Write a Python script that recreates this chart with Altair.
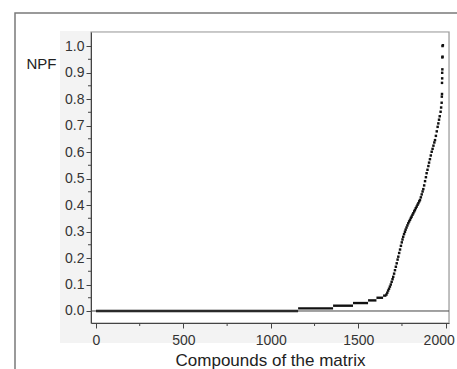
import altair as alt
import pandas as pd

# Flat steps (many compounds sharing the same NPF value)
step_start = [0, 1156, 1356, 1470, 1556, 1604, 1642]
step_end = [1156, 1356, 1470, 1556, 1604, 1642, 1661]
step_npf = [0.0, 0.01, 0.02, 0.03, 0.04, 0.05, 0.058]

# Rising part, read point by point
rise_x = [1661, 1666, 1671, 1676, 1681, 1686, 1691, 1696, 1700, 1705, 1710, 1715,
          1720, 1725, 1729, 1734, 1739, 1744, 1749, 1753, 1757, 1762, 1767, 1771,
          1776, 1781, 1786, 1791, 1796, 1801, 1805, 1810, 1815, 1820, 1824, 1829,
          1834, 1839, 1844, 1849, 1853, 1858, 1863, 1868, 1872, 1877, 1882, 1887,
          1891, 1896, 1901, 1905, 1910, 1915, 1920, 1925, 1930, 1935, 1939, 1944,
          1949, 1954, 1958, 1962, 1966, 1971, 1974, 1977,
          1978, 1979, 1979, 1980, 1980, 1981, 1981, 1982, 1982, 1984]
rise_npf = [0.062, 0.069, 0.077, 0.084, 0.092, 0.100, 0.110, 0.120, 0.129, 0.141, 0.154, 0.167,
            0.180, 0.194, 0.205, 0.219, 0.232, 0.246, 0.259, 0.270, 0.280, 0.290, 0.299, 0.307,
            0.315, 0.323, 0.331, 0.338, 0.344, 0.351, 0.356, 0.363, 0.369, 0.376, 0.381, 0.388,
            0.394, 0.401, 0.407, 0.414, 0.419, 0.429, 0.440, 0.451, 0.460, 0.474, 0.490, 0.505,
            0.520, 0.533, 0.547, 0.560, 0.573, 0.587, 0.601, 0.612, 0.624, 0.636, 0.645, 0.661,
            0.678, 0.695, 0.708, 0.722, 0.735, 0.752, 0.768, 0.786,
            0.809, 0.819, 0.861, 0.878, 0.899, 0.912, 0.957, 0.960, 1.0, 1.003]

x_ticks = [0, 500, 1000, 1500, 2000]
x_minor = [250, 750, 1250, 1750]
y_ticks = [0.0, 0.1, 0.2, 0.3, 0.4, 0.5, 0.6, 0.7, 0.8, 0.9, 1.0]
y_minor = [0.05, 0.15, 0.25, 0.35, 0.45, 0.55, 0.65, 0.75, 0.85, 0.95]

W, H = 358, 291
FONT = "Liberation Sans"

xs = alt.Scale(domain=[-28.6, 2019], nice=False, zero=False)
ys = alt.Scale(domain=[-0.0453, 1.053], nice=False, zero=False)

xa = alt.Axis(values=x_ticks, format="d", title="Compounds of the matrix",
              grid=False, tickSize=5, labelPadding=5, labelFontSize=14,
              labelFont=FONT, labelColor="#333333", titleFont=FONT,
              titleFontSize=17, titleFontWeight="normal", titleColor="#222222",
              titlePadding=5, domainColor="#444444", tickColor="#444444",
              zindex=2, labelOverlap=False,
              labelOffset={"condition": {"test": "datum.value >= 2000", "value": -7},
                           "value": 0})
ya = alt.Axis(values=y_ticks, tickCount=11, format=".1f", title="NPF", grid=False,
              tickSize=5, labelPadding=2, labelFontSize=14, labelFont=FONT,
              labelColor="#333333", titleFont=FONT, titleFontSize=15,
              titleFontWeight="normal", titleColor="#222222", titleAngle=0,
              titleX=-50, titleY=31, titleAlign="center",
              titleBaseline="middle", domainColor="#444444",
              tickColor="#444444", zindex=2, labelOverlap=False)

steps = pd.DataFrame({"x": step_start, "x2": step_end, "y": step_npf})
rise = pd.DataFrame({"x": rise_x, "y": rise_npf})
xmin = pd.DataFrame({"x": x_minor})
ymin = pd.DataFrame({"y": y_minor})
zero = pd.DataFrame({"y": [0.0]})

base_df = pd.DataFrame({"a": [0]})

grey_panel = alt.Chart(base_df).mark_rect(color="#f3f3f3").encode(
    x=alt.value(-31), x2=alt.value(W + 1), y=alt.value(-1), y2=alt.value(H + 20))
white_panel = alt.Chart(base_df).mark_rect(color="white").encode(
    x=alt.value(0), x2=alt.value(W), y=alt.value(0), y2=alt.value(H))
outer_frame = alt.Chart(base_df).mark_rect(
    fill=None, fillOpacity=0, stroke="#7a7a7a", strokeWidth=1.5).encode(
    x=alt.value(-76), x2=alt.value(W + 60), y=alt.value(-19), y2=alt.value(H + 60))
plot_frame = alt.Chart(base_df).mark_rect(
    fill=None, fillOpacity=0, stroke="#9a9a9a", strokeWidth=1.2).encode(
    x=alt.value(0), x2=alt.value(W), y=alt.value(0), y2=alt.value(H))

zero_line = alt.Chart(zero).mark_rule(color="#444444", strokeWidth=1).encode(
    y=alt.Y("y:Q", scale=ys, axis=ya), x=alt.value(0), x2=alt.value(W))

step_rules = alt.Chart(steps).mark_rule(color="#111111", strokeWidth=2.4).encode(
    x=alt.X("x:Q", scale=xs, axis=xa),
    x2="x2:Q",
    y=alt.Y("y:Q", scale=ys, axis=ya),
)

points = alt.Chart(rise).mark_square(color="#111111", size=6, opacity=1).encode(
    x=alt.X("x:Q", scale=xs, axis=xa), y=alt.Y("y:Q", scale=ys, axis=ya))

x_minor_ticks = alt.Chart(xmin).mark_rule(color="#444444", strokeWidth=1).encode(
    x=alt.X("x:Q", scale=xs, axis=xa), y=alt.value(H), y2=alt.value(H + 3))
y_minor_ticks = alt.Chart(ymin).mark_rule(color="#444444", strokeWidth=1).encode(
    y=alt.Y("y:Q", scale=ys, axis=ya), x=alt.value(-3), x2=alt.value(0))

chart = alt.layer(
    grey_panel, white_panel, outer_frame, step_rules, plot_frame, zero_line,
    points, x_minor_ticks, y_minor_ticks
).properties(
    width=W, height=H,
    autosize=alt.AutoSizeParams(type="none"),
    padding={"left": 91, "top": 32, "right": 8, "bottom": 46},
    background="white",
).configure_view(stroke=None)

chart.save("out.html", embed_options={"renderer": "svg", "actions": False})
